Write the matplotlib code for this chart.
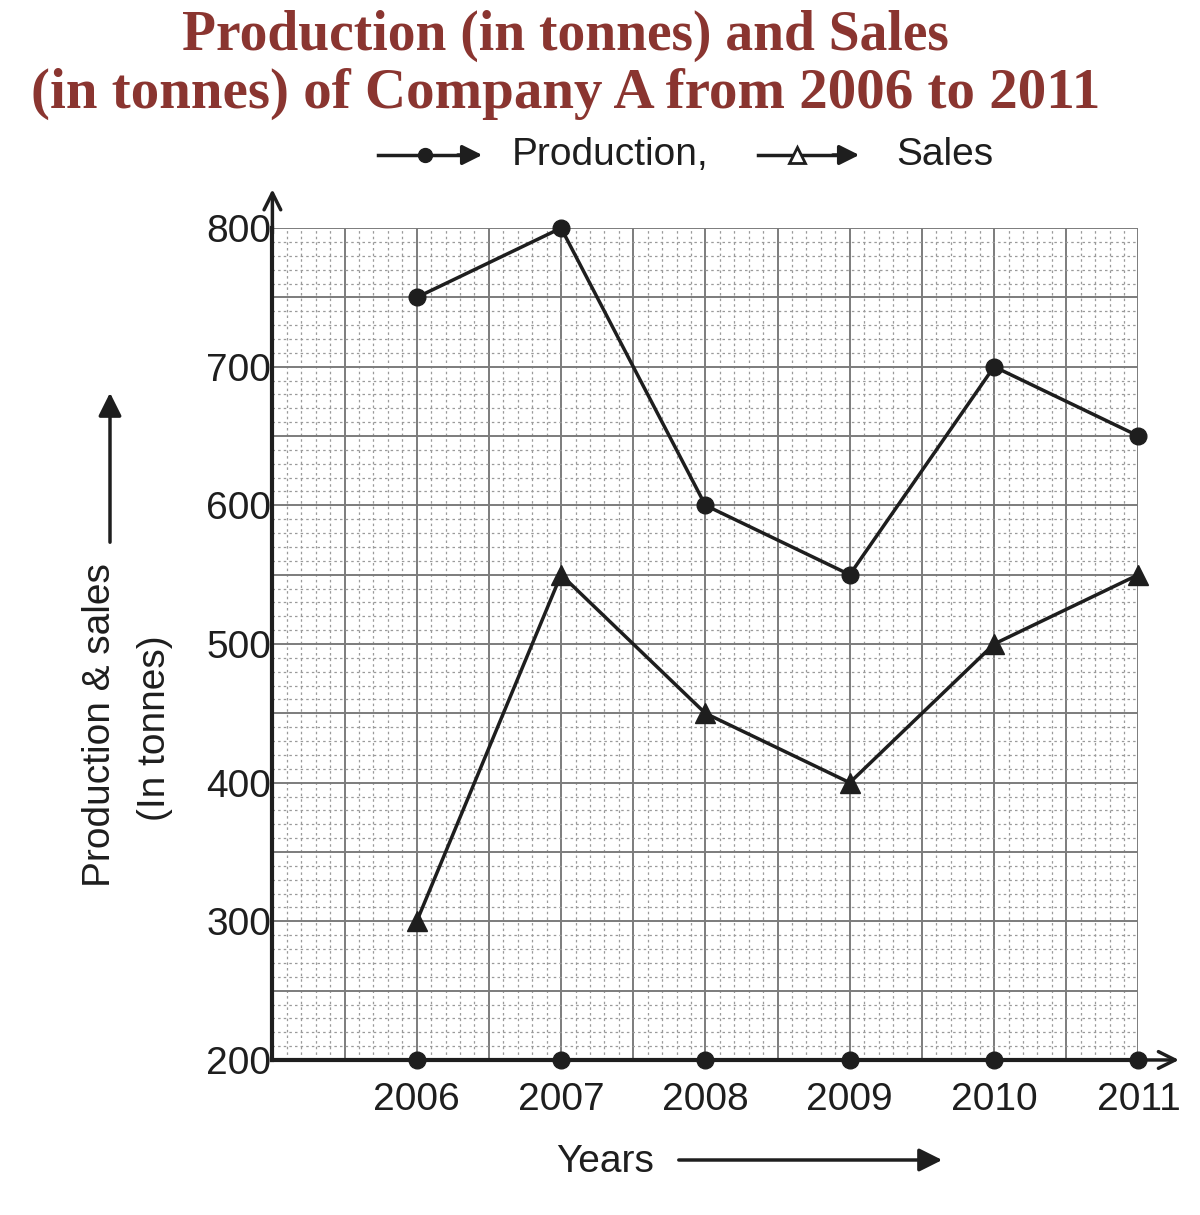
import numpy as np
import matplotlib
matplotlib.use("Agg")
import matplotlib.pyplot as plt
from matplotlib.lines import Line2D

years = [2006, 2007, 2008, 2009, 2010, 2011]
production = [750, 800, 600, 550, 700, 650]
sales = [300, 550, 450, 400, 500, 550]
y_ticks = [200, 300, 400, 500, 600, 700, 800]

plt.rcParams['font.family'] = ['Liberation Sans', 'DejaVu Sans']

fig = plt.figure(figsize=(12, 12.15), dpi=100)
ax = fig.add_axes([0.227, 0.1276, 0.7217, 0.6847])
W, H = 1200, 1215
ink = '#1e1e1e'


def fig_arrow(x0, y0, x1, y1, scale=30):
    # arrow placed in figure pixels (measured from top-left)
    ax.annotate('', xy=(x1 / W, 1 - y1 / H), xytext=(x0 / W, 1 - y0 / H),
                xycoords='figure fraction', annotation_clip=False,
                arrowprops=dict(arrowstyle='-|>', lw=2.5, color=ink,
                                mutation_scale=scale))


# graph-paper style grid
for v in np.arange(2005, 2011.01, 0.1):
    major = abs(v * 2 - round(v * 2)) < 1e-6
    ax.axvline(v, color='#7c7c7c' if major else '#9a9a9a',
               lw=1.4 if major else 0.9, ls='-' if major else (0, (2, 2.5)), zorder=0)
for v in range(200, 801, 10):
    major = v % 50 == 0
    ax.axhline(v, color='#7c7c7c' if major else '#9a9a9a',
               lw=1.4 if major else 0.9, ls='-' if major else (0, (2, 2.5)), zorder=0)

ax.plot(years, production, color=ink, lw=2.5, marker='o', ms=12, zorder=3, clip_on=False)
ax.plot(years, sales, color=ink, lw=2.5, marker='^', ms=14, zorder=3, clip_on=False)
# dots on the x axis at each year
ax.plot(years, [200] * len(years), ls='none', marker='o', ms=12, color=ink,
        clip_on=False, zorder=4)

ax.set_xlim(2005, 2011)
ax.set_ylim(200, 800)
ax.set_xticks(years)
ax.set_yticks(y_ticks)
ax.tick_params(axis='both', length=0, labelsize=28, colors=ink)
ax.tick_params(axis='x', pad=16)
ax.tick_params(axis='y', pad=1)
for s in ['top', 'right']:
    ax.spines[s].set_visible(False)
for s in ['left', 'bottom']:
    ax.spines[s].set_linewidth(3)
    ax.spines[s].set_color(ink)

# axis arrows
ax.annotate('', xy=(0, 1.05), xytext=(0, 0.99), xycoords='axes fraction',
            annotation_clip=False,
            arrowprops=dict(arrowstyle='->', lw=2.5, color=ink, mutation_scale=30))
ax.annotate('', xy=(1.05, 0), xytext=(0.99, 0), xycoords='axes fraction',
            annotation_clip=False,
            arrowprops=dict(arrowstyle='->', lw=2.5, color=ink, mutation_scale=30))

# title
title_color = '#8a3530'
fig.text(0.471, 1 - 36 / H, 'Production (in tonnes) and Sales', ha='center', va='center',
         fontsize=40, fontweight='bold', family='Liberation Serif', color=title_color)
fig.text(0.471, 1 - 94 / H, '(in tonnes) of Company A from 2006 to 2011', ha='center',
         va='center', fontsize=41, fontweight='bold', family='Liberation Serif',
         color=title_color)

# legend drawn by hand
ly = 1 - 155 / H
fig.add_artist(Line2D([378 / W, 462 / W], [ly, ly], color=ink, lw=2.5))
fig.add_artist(Line2D([425 / W], [ly], marker='o', ms=10, color=ink))
fig_arrow(455, 155, 485, 155)
fig.text(512 / W, ly, 'Production,', ha='left', va='center', fontsize=28, color=ink)
fig.add_artist(Line2D([758 / W, 835 / W], [ly, ly], color=ink, lw=2.5))
fig.add_artist(Line2D([797 / W], [ly], marker='^', ms=11, color=ink,
                      markerfacecolor='white', markeredgewidth=2))
fig_arrow(830, 155, 862, 155)
fig.text(896 / W, ly, 'Sales', ha='left', va='center', fontsize=28, color=ink)

# y label with arrow
fig.text(100 / W, 1 - 725 / H, 'Production & sales', rotation=90, ha='center', va='center',
         fontsize=28, color=ink)
fig.text(155 / W, 1 - 728 / H, '(In tonnes)', rotation=90, ha='center', va='center',
         fontsize=28, color=ink)
fig_arrow(110, 545, 110, 390, scale=35)

# x label with arrow
fig.text(605 / W, 1 - 1162 / H, 'Years', ha='center', va='center', fontsize=28, color=ink)
fig_arrow(676, 1160, 945, 1160, scale=35)

fig.savefig('out.png', dpi=100)
